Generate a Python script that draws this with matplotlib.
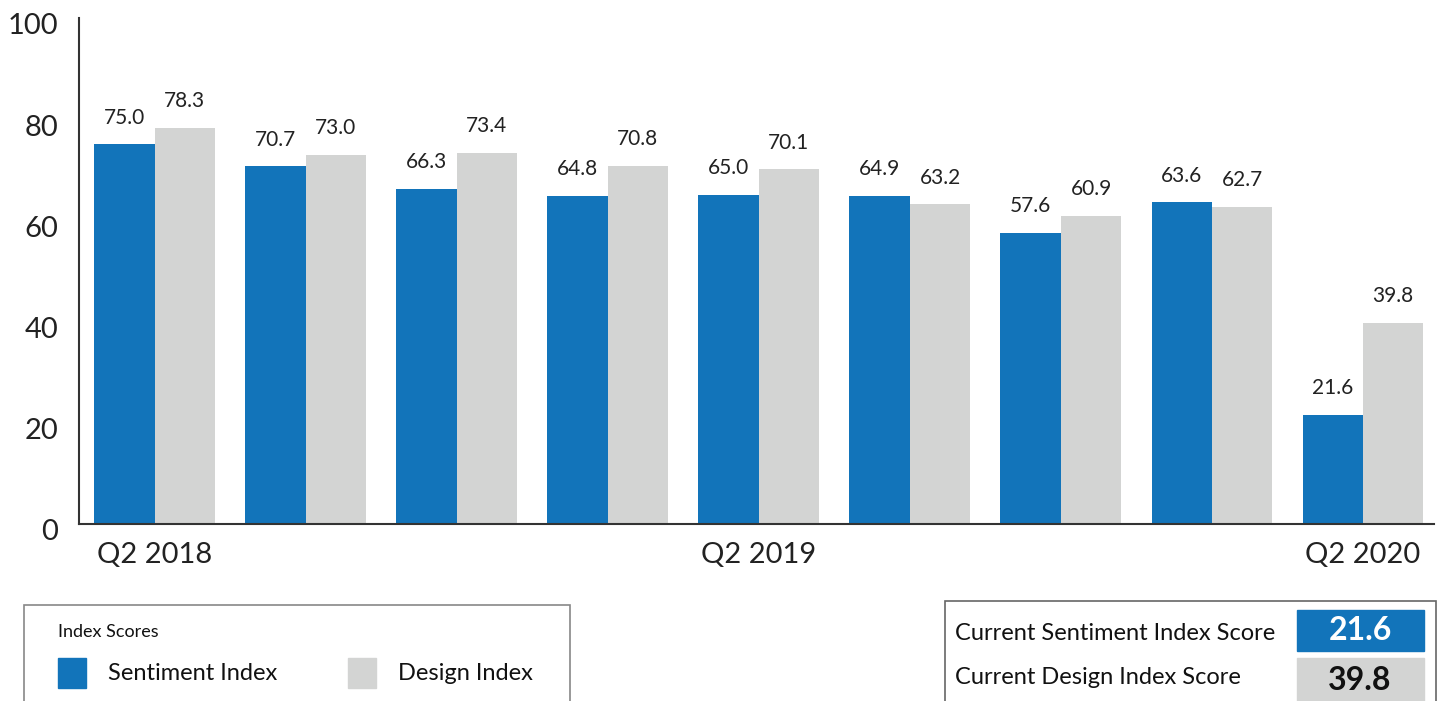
import matplotlib
matplotlib.use('Agg')
import matplotlib.pyplot as plt
import matplotlib.transforms as mtransforms
from matplotlib.patches import Rectangle
import numpy as np

plt.rcParams['font.family'] = ['Lato', 'DejaVu Sans']

# data
quarters = ['Q2 2018', 'Q3 2018', 'Q4 2018', 'Q1 2019', 'Q2 2019',
            'Q3 2019', 'Q4 2019', 'Q1 2020', 'Q2 2020']
sentiment = [75.0, 70.7, 66.3, 64.8, 65.0, 64.9, 57.6, 63.6, 21.6]
design = [78.3, 73.0, 73.4, 70.8, 70.1, 63.2, 60.9, 62.7, 39.8]
shown_ticks = [0, 4, 8]
yticks = [0, 20, 40, 60, 80, 100]

blue = '#1274ba'
grey = '#d3d4d3'
W, H = 1440, 701


def fx(px):
    return px / W


def fy(py):
    return 1 - py / H


fig = plt.figure(figsize=(14.4, 7.01), dpi=100)
ax = fig.add_axes([fx(79), fy(524), fx(1434) - fx(79), fy(18) - fy(524)])

x = np.arange(len(quarters))
bw = 0.4
b1 = ax.bar(x - bw / 2, sentiment, bw, color=blue)
b2 = ax.bar(x + bw / 2, design, bw, color=grey)

for bars, vals in [(b1, sentiment), (b2, design)]:
    for r, v in zip(bars, vals):
        ax.annotate('%.1f' % v, (r.get_x() + r.get_width() / 2, v),
                    xytext=(0, 12), textcoords='offset points',
                    ha='center', va='bottom', fontsize=15, color='#222222')

ax.set_xlim(-0.5, 8.47)
ax.set_ylim(0, 100)
ax.set_yticks(yticks)
ax.set_xticks(shown_ticks)
ax.set_xticklabels([quarters[i] for i in shown_ticks])
ax.tick_params(axis='both', length=0, labelsize=21, colors='#222222')
ax.tick_params(axis='y', pad=15)
ax.tick_params(axis='x', pad=13)
off = mtransforms.ScaledTranslation(0, -6 / 100, fig.dpi_scale_trans)
for lab in ax.get_yticklabels():
    lab.set_transform(lab.get_transform() + off)

for s in ['top', 'right']:
    ax.spines[s].set_visible(False)
for s in ['left', 'bottom']:
    ax.spines[s].set_color('#333333')
    ax.spines[s].set_linewidth(1.5)

# legend box
fig.patches.append(Rectangle((fx(24), fy(720)), fx(570) - fx(24), fy(605) - fy(720),
                             transform=fig.transFigure, fill=False,
                             edgecolor='#888888', linewidth=1.2))
fig.text(fx(58), fy(632), 'Index Scores', fontsize=13, va='center', color='#111111')
fig.patches.append(Rectangle((fx(58), fy(688)), fx(86) - fx(58), fy(658) - fy(688),
                             transform=fig.transFigure, color=blue))
fig.text(fx(108), fy(673), 'Sentiment Index', fontsize=17, va='center', color='#111111')
fig.patches.append(Rectangle((fx(348), fy(688)), fx(376) - fx(348), fy(658) - fy(688),
                             transform=fig.transFigure, color=grey))
fig.text(fx(398), fy(673), 'Design Index', fontsize=17, va='center', color='#111111')

# current score box
fig.patches.append(Rectangle((fx(945), fy(720)), fx(1436) - fx(945), fy(601) - fy(720),
                             transform=fig.transFigure, fill=False,
                             edgecolor='#666666', linewidth=1.2))
fig.text(fx(955), fy(634), 'Current Sentiment Index Score', fontsize=17, va='center', color='#111111')
fig.text(fx(955), fy(677), 'Current Design Index Score', fontsize=17, va='center', color='#111111')
fig.patches.append(Rectangle((fx(1297), fy(651)), fx(1424) - fx(1297), fy(610) - fy(651),
                             transform=fig.transFigure, color=blue))
fig.patches.append(Rectangle((fx(1297), fy(701)), fx(1424) - fx(1297), fy(658) - fy(701),
                             transform=fig.transFigure, color=grey))
fig.text(fx(1360), fy(631), '%.1f' % sentiment[-1], fontsize=23, fontweight='bold',
         ha='center', va='center', color='white')
fig.text(fx(1360), fy(680), '%.1f' % design[-1], fontsize=23, fontweight='bold',
         ha='center', va='center', color='#111111')

fig.savefig('out.png', dpi=100)
